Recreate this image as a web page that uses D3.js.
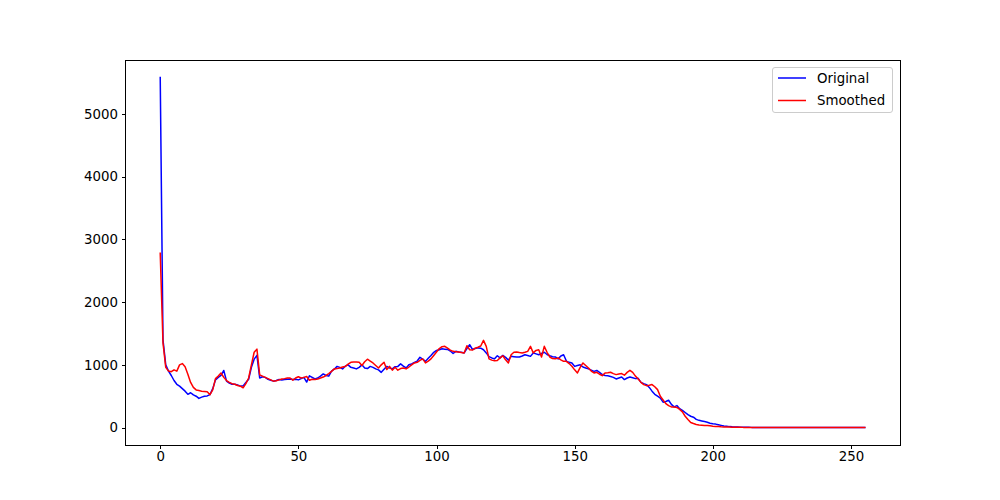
<!DOCTYPE html>
<html>
<head>
<meta charset="utf-8">
<script src="https://cdn.jsdelivr.net/npm/d3@7"></script>
<style>
  body { margin: 0; background: #fff; }
  text { font-family: "DejaVu Sans", sans-serif; }
</style>
</head>
<body>
<svg id="chart" width="1000" height="500"></svg>
<script>
const original = [
  5580,1400,1000,900,830,750,690,660,620,580,
  530,555,520,500,465,485,500,505,525,620,
  760,800,830,910,740,710,690,690,680,660,
  665,720,770,960,1090,1150,790,810,800,770,
  755,740,750,765,760,765,770,775,765,770,
  760,780,800,725,825,800,775,790,820,855,
  830,820,900,930,975,960,935,980,1000,960,
  950,935,960,1000,950,940,975,960,935,920,
  880,930,975,950,935,970,975,1015,980,950,
  1000,1015,1040,1060,1120,1090,1055,1105,1150,1200,
  1230,1240,1255,1250,1245,1220,1180,1215,1205,1200,
  1190,1260,1320,1245,1260,1270,1265,1240,1190,1130,
  1110,1095,1145,1110,1150,1120,1075,1135,1130,1125,
  1125,1140,1160,1150,1135,1190,1175,1160,1180,1200,
  1165,1145,1130,1125,1095,1140,1160,1060,1040,1030,
  975,990,1000,965,950,935,915,895,910,880,
  845,830,825,815,800,775,790,805,765,790,
  805,795,780,785,720,700,685,640,580,530,
  500,470,405,415,435,370,330,350,300,275,
  240,205,180,165,130,115,105,95,85,70,
  62,55,45,35,25,20,15,12,10,8,
  6,5,4,4,3,3,2,2,2,2,
  1,1,1,1,1,1,1,1,1,1,
  1,1,1,1,1,1,1,1,1,1,
  1,1,1,1,1,1,1,1,1,1,
  1,1,1,1,1,1
];
const smoothed = [
  2780,1350,960,900,890,920,900,1000,1020,970,
  850,720,640,600,590,580,575,570,525,600,
  780,820,870,800,750,720,700,690,670,660,
  635,700,790,1000,1200,1250,840,820,800,780,
  760,740,745,760,775,780,790,790,755,790,
  810,790,800,815,755,770,765,775,790,805,
  830,860,895,935,940,950,965,975,1010,1040,
  1045,1045,1040,990,1050,1090,1060,1030,990,950,
  1000,1040,925,975,915,960,915,940,950,935,
  965,1000,1030,1040,1070,1095,1030,1060,1095,1150,
  1205,1260,1290,1295,1265,1235,1215,1210,1205,1195,
  1190,1305,1240,1235,1265,1280,1300,1390,1295,1095,
  1075,1065,1070,1110,1145,1080,1030,1160,1200,1205,
  1195,1190,1200,1215,1295,1190,1230,1240,1125,1295,
  1200,1125,1100,1095,1110,1080,1056,1056,1020,976,
  920,871,960,1030,990,950,900,871,881,850,
  828,871,875,881,860,844,855,860,835,880,
  913,880,820,775,720,685,668,675,685,650,
  605,500,440,382,350,329,329,320,290,250,
  180,127,80,64,50,42,38,34,32,28,
  22,18,15,12,10,8,7,6,5,4,
  4,3,3,2,2,2,2,2,1,1,
  1,1,1,1,1,1,1,1,1,1,
  1,1,1,1,1,1,1,1,1,1,
  1,1,1,1,1,1,1,1,1,1,
  1,1,1,1,1,1
];
const xTicks = [0, 50, 100, 150, 200, 250];
const yTicks = [0, 1000, 2000, 3000, 4000, 5000];
const seriesNames = ["Original", "Smoothed"];
const seriesColors = ["#0000ff", "#ff0000"];

const svg = d3.select("#chart");
const mLeft = 125, mRight = 900, mTop = 60, mBottom = 445;
const n = original.length;
const xPad = (n - 1) * 0.05;
const allVals = original.concat(smoothed);
const yMin = d3.min(allVals), yMax = d3.max(allVals);
const yPad = (yMax - yMin) * 0.05;

const x = d3.scaleLinear().domain([0 - xPad, n - 1 + xPad]).range([mLeft, mRight]);
const y = d3.scaleLinear().domain([yMin - yPad, yMax + yPad]).range([mBottom, mTop]);

const line = d3.line().x((d, i) => x(i)).y(d => y(d));

const g = svg.append("g");
[original, smoothed].forEach((s, k) => {
  g.append("path").datum(s)
    .attr("fill", "none")
    .attr("stroke", seriesColors[k])
    .attr("stroke-width", 1.5)
    .attr("stroke-linejoin", "round")
    .attr("stroke-linecap", "square")
    .attr("d", line);
});

// axes
const xAxis = d3.axisBottom(x).tickValues(xTicks).tickSize(3.5).tickPadding(3.5).tickFormat(d3.format("d"));
const yAxis = d3.axisLeft(y).tickValues(yTicks).tickSize(3.5).tickPadding(3.5).tickFormat(d3.format("d"));

const gx = svg.append("g").attr("transform", `translate(0,${mBottom})`).call(xAxis);
const gy = svg.append("g").attr("transform", `translate(${mLeft},0)`).call(yAxis);
[gx, gy].forEach(a => {
  a.select(".domain").remove();
  a.selectAll(".tick line").attr("stroke", "#000").attr("stroke-width", 1).attr("shape-rendering", "crispEdges");
  a.selectAll(".tick text").attr("fill", "#000").style("font-size", "13.33px").style("font-family", "DejaVu Sans");
});
gx.selectAll(".tick text").attr("dy", "0.71em");

// spines
svg.append("rect").attr("x", mLeft).attr("y", mTop).attr("width", mRight - mLeft).attr("height", mBottom - mTop)
  .attr("fill", "none").attr("stroke", "#000").attr("stroke-width", 1).attr("shape-rendering", "crispEdges");

// legend
const lg = svg.append("g");
lg.append("rect").attr("x", 772.5).attr("y", 67.5).attr("width", 120).attr("height", 45)
  .attr("rx", 2.5).attr("fill", "#fff").attr("fill-opacity", 0.8)
  .attr("stroke", "#cccccc").attr("stroke-width", 1);
seriesNames.forEach((name, k) => {
  const cy = 78 + k * 22.5;
  lg.append("line").attr("x1", 778).attr("x2", 806).attr("y1", cy).attr("y2", cy)
    .attr("stroke", seriesColors[k]).attr("stroke-width", 1.5);
  lg.append("text").attr("x", 817).attr("y", cy).attr("dy", "0.36em")
    .style("font-size", "13.33px").attr("fill", "#000").text(name);
});
</script>
</body>
</html>
